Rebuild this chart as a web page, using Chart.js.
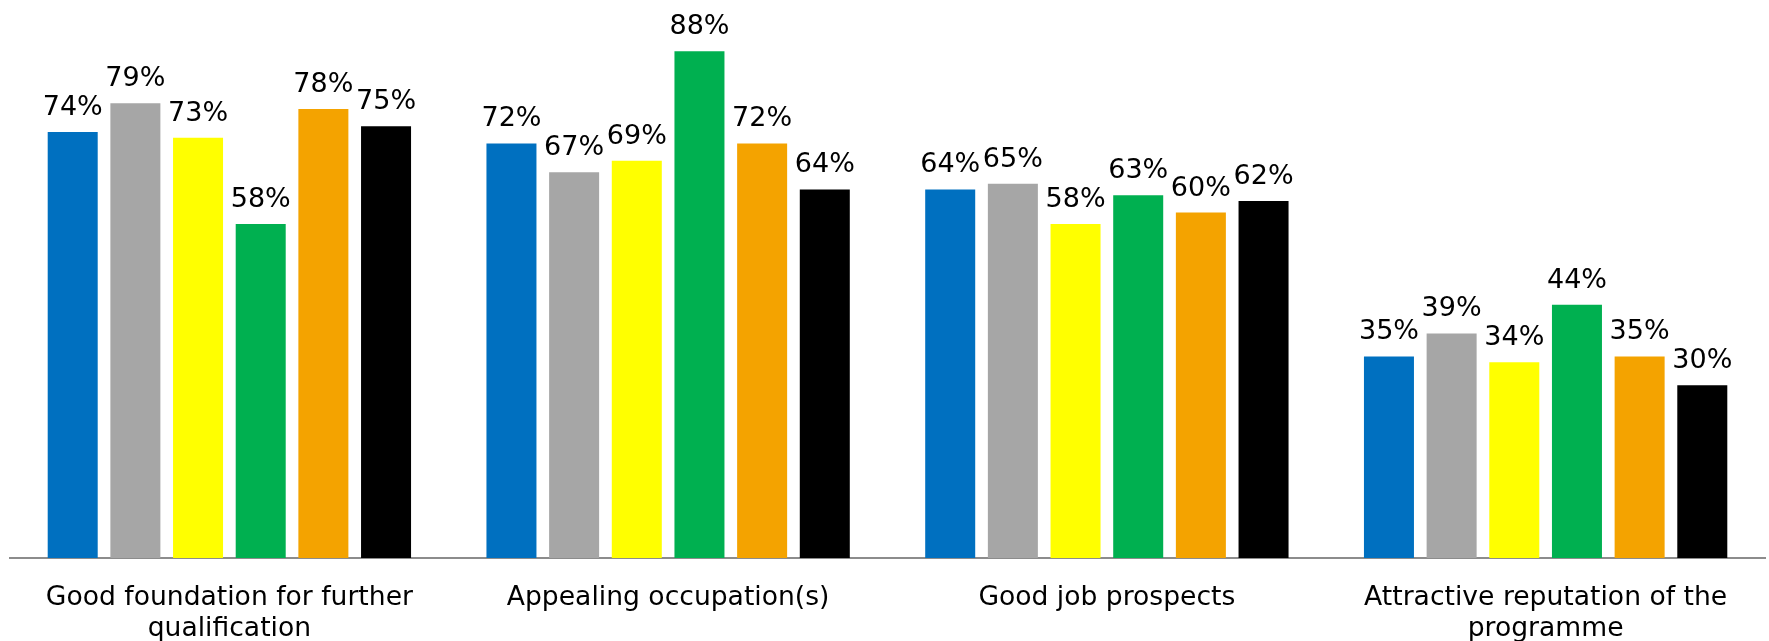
<!DOCTYPE html>
<html>
<head>
<meta charset="utf-8">
<script src="https://cdn.jsdelivr.net/npm/chart.js@4/dist/chart.umd.min.js"></script>
<style>
html,body{margin:0;padding:0;background:#fff;}
#wrap{width:1769px;height:641px;position:relative;}
</style>
</head>
<body>
<div id="wrap"><canvas id="c" width="1769" height="641"></canvas></div>
<script>
const categories = [
  ["Good foundation for further", "qualification"],
  ["Appealing occupation(s)"],
  ["Good job prospects"],
  ["Attractive reputation of the", "programme"]
];
const seriesNames = ["Series 1", "Series 2", "Series 3", "Series 4", "Series 5", "Series 6"];
const series1 = [74, 72, 64, 35];
const series2 = [79, 67, 65, 39];
const series3 = [73, 69, 58, 34];
const series4 = [58, 88, 63, 44];
const series5 = [78, 72, 60, 35];
const series6 = [75, 64, 62, 30];
const seriesColors = ["#0070C0", "#A6A6A6", "#FFFF00", "#00B050", "#F4A300", "#000000"];

const allSeries = [series1, series2, series3, series4, series5, series6];
const FONT = "'DejaVu Sans', Verdana, sans-serif";

const valueLabels = {
  id: 'valueLabels',
  afterDatasetsDraw(chart) {
    const ctx = chart.ctx;
    ctx.save();
    ctx.font = "27px " + FONT;
    ctx.fillStyle = "#000";
    ctx.textAlign = "center";
    ctx.textBaseline = "alphabetic";
    chart.data.datasets.forEach((ds, i) => {
      const meta = chart.getDatasetMeta(i);
      meta.data.forEach((bar, j) => {
        ctx.fillText(ds.data[j] + "%", bar.x, bar.y - 17);
      });
    });
    ctx.restore();
  }
};

new Chart(document.getElementById('c'), {
  type: 'bar',
  data: {
    labels: categories,
    datasets: allSeries.map((d, i) => ({
      label: seriesNames[i],
      data: d,
      backgroundColor: seriesColors[i],
      borderWidth: 0,
      categoryPercentage: 0.857,
      barPercentage: 0.798
    }))
  },
  options: {
    responsive: false,
    animation: false,
    layout: { padding: { top: 11, left: 10, right: 4, bottom: 0 } },
    plugins: { legend: { display: false }, tooltip: { enabled: false } },
    scales: {
      x: {
        grid: { display: false, drawTicks: false },
        border: { display: true, color: '#8c8c8c', width: 2 },
        ticks: { color: '#000', font: { family: FONT, size: 26.6, lineHeight: '31px' }, padding: 25, maxRotation: 0, autoSkip: false },
        afterFit(s) { s.height = 83; }
      },
      y: {
        display: false,
        min: 0,
        max: 95
      }
    }
  },
  plugins: [valueLabels]
});
</script>
</body>
</html>
